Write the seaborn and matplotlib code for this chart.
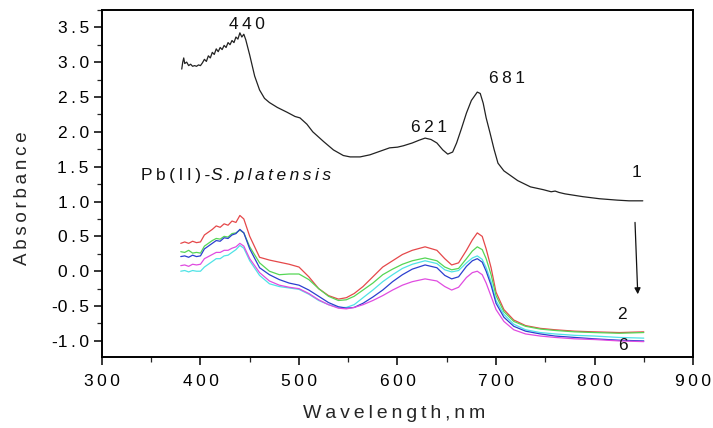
import numpy as np
import pandas as pd
import matplotlib
matplotlib.use("Agg")
import matplotlib.pyplot as plt
from matplotlib.ticker import MultipleLocator, FuncFormatter
import seaborn as sns

# ---------------- data ----------------
wl_1 = [381, 382, 383, 384, 386, 388, 390, 392, 394, 396, 398, 400, 402, 404, 406,
        408, 410, 412, 414, 416, 418, 420, 422, 424, 426, 428, 430, 432, 434, 436,
        438, 440, 442, 444, 446, 450, 455, 460, 465, 470, 478, 488, 496, 501, 508,
        514, 525, 535, 545, 552, 562, 572, 582, 592, 600, 606, 615, 622, 628, 634,
        640, 646, 651, 656, 660, 665, 670, 675, 681, 684, 687, 690, 694, 698, 702,
        708, 714, 722, 735, 748, 756, 760, 764, 770, 788, 805, 823, 835, 849]
ab_1 = [2.90, 3.00, 3.06, 2.98, 3.00, 2.95, 2.97, 2.94, 2.95, 2.94, 2.96, 2.95, 2.99,
        3.04, 3.01, 3.09, 3.06, 3.14, 3.11, 3.19, 3.15, 3.21, 3.18, 3.24, 3.21, 3.28,
        3.25, 3.31, 3.28, 3.36, 3.33, 3.42, 3.36, 3.40, 3.32, 3.10, 2.80, 2.60, 2.48,
        2.42, 2.35, 2.28, 2.22, 2.20, 2.11, 2.00, 1.86, 1.74, 1.66, 1.64, 1.64, 1.67,
        1.72, 1.77, 1.78, 1.80, 1.84, 1.88, 1.91, 1.89, 1.84, 1.74, 1.68, 1.71, 1.84,
        2.05, 2.27, 2.45, 2.57, 2.55, 2.41, 2.20, 1.98, 1.75, 1.55, 1.44, 1.38, 1.30,
        1.21, 1.17, 1.14, 1.15, 1.13, 1.11, 1.07, 1.04, 1.02, 1.01, 1.01]

wl_c = [380, 384, 388, 392, 396, 400, 404, 408, 412, 416, 420, 424, 428, 432, 436,
        440, 444, 450, 460, 470, 480, 490, 500, 510, 520, 530, 540, 548, 556, 565,
        575, 585, 595, 605, 615, 628, 640, 648, 655, 662, 670, 676, 681, 686, 690,
        695, 700, 708, 718, 730, 745, 760, 780, 800, 825, 850]
ab_2 = [0.40, 0.42, 0.40, 0.43, 0.41, 0.42, 0.52, 0.56, 0.60, 0.65, 0.63, 0.68, 0.66,
        0.72, 0.70, 0.80, 0.75, 0.50, 0.20, 0.16, 0.13, 0.10, 0.06, -0.08, -0.25,
        -0.35, -0.40, -0.38, -0.32, -0.22, -0.08, 0.06, 0.15, 0.24, 0.30, 0.35, 0.30,
        0.18, 0.09, 0.12, 0.30, 0.45, 0.55, 0.50, 0.32, 0.05, -0.30, -0.55, -0.70,
        -0.78, -0.82, -0.84, -0.86, -0.87, -0.88, -0.87]
ab_3 = [0.28, 0.27, 0.30, 0.26, 0.27, 0.26, 0.36, 0.40, 0.44, 0.47, 0.46, 0.50, 0.49,
        0.54, 0.55, 0.59, 0.55, 0.35, 0.12, 0.00, -0.05, -0.04, -0.04, -0.12, -0.25,
        -0.36, -0.42, -0.41, -0.36, -0.27, -0.17, -0.05, 0.03, 0.10, 0.15, 0.19, 0.15,
        0.06, 0.02, 0.04, 0.18, 0.29, 0.35, 0.31, 0.18, -0.05, -0.35, -0.58, -0.72,
        -0.79, -0.83, -0.85, -0.87, -0.88, -0.89, -0.88]
ab_4 = [0.00, 0.01, -0.01, 0.01, 0.00, 0.00, 0.06, 0.10, 0.14, 0.18, 0.18, 0.22, 0.23,
        0.27, 0.31, 0.37, 0.33, 0.15, -0.06, -0.18, -0.22, -0.24, -0.26, -0.33, -0.42,
        -0.48, -0.52, -0.52, -0.48, -0.38, -0.27, -0.15, -0.05, 0.04, 0.10, 0.15, 0.11,
        0.02, -0.01, 0.01, 0.12, 0.19, 0.22, 0.17, 0.05, -0.15, -0.42, -0.62, -0.76,
        -0.84, -0.88, -0.90, -0.92, -0.93, -0.95, -0.96]
ab_5 = [0.21, 0.22, 0.20, 0.23, 0.21, 0.22, 0.32, 0.36, 0.40, 0.44, 0.43, 0.48, 0.47,
        0.52, 0.54, 0.60, 0.55, 0.32, 0.05, -0.05, -0.12, -0.17, -0.20, -0.27, -0.36,
        -0.45, -0.51, -0.53, -0.52, -0.46, -0.37, -0.27, -0.15, -0.05, 0.03, 0.09, 0.05,
        -0.06, -0.11, -0.08, 0.07, 0.15, 0.18, 0.13, 0.00, -0.20, -0.46, -0.66, -0.79,
        -0.86, -0.90, -0.93, -0.95, -0.97, -0.99, -1.00]
ab_6 = [0.08, 0.09, 0.07, 0.10, 0.09, 0.10, 0.18, 0.21, 0.24, 0.27, 0.27, 0.30, 0.30,
        0.33, 0.35, 0.40, 0.36, 0.18, -0.02, -0.14, -0.20, -0.23, -0.25, -0.32, -0.41,
        -0.48, -0.53, -0.54, -0.52, -0.48, -0.42, -0.35, -0.27, -0.20, -0.15, -0.11,
        -0.14, -0.22, -0.27, -0.23, -0.09, -0.02, 0.00, -0.05, -0.17, -0.36, -0.55,
        -0.72, -0.84, -0.90, -0.93, -0.95, -0.97, -0.98, -1.00, -1.01]

series_names = ["2", "3", "4", "5", "6"]
series_vals = [ab_2, ab_3, ab_4, ab_5, ab_6]
series_colors = ["#e5484a", "#55d655", "#4fe3e6", "#2b3fcf", "#e04ce0"]

x_ticks = [300, 400, 500, 600, 700, 800, 900]
y_ticks = [-1.0, -0.5, 0.0, 0.5, 1.0, 1.5, 2.0, 2.5, 3.0, 3.5]

# ---------------- style ----------------
sns.set_theme(style="ticks")
FAM = ["Liberation Sans", "DejaVu Sans"]
plt.rcParams["font.family"] = FAM
SP = "\u2009"


def spaced(s):
    if s.startswith("-"):
        return "-" + SP.join(list(s[1:]))
    return SP.join(list(s))


fig = plt.figure(figsize=(7.13, 4.28), dpi=100)
ax = fig.add_axes([0.143, 0.166, 0.829, 0.811])

df1 = pd.DataFrame({"wl": wl_1, "ab": ab_1})
sns.lineplot(data=df1, x="wl", y="ab", ax=ax, color="#222222", lw=0.9,
             estimator=None, sort=False)

for name, vals, col in zip(series_names, series_vals, series_colors):
    d = pd.DataFrame({"wl": wl_c, "ab": vals})
    sns.lineplot(data=d, x="wl", y="ab", ax=ax, color=col, lw=0.9,
                 estimator=None, sort=False)

ax.set_xlim(300, 900)
ax.set_ylim(-1.23, 3.75)
ax.set_xticks(x_ticks)
ax.set_yticks(y_ticks)
ax.xaxis.set_minor_locator(MultipleLocator(50))
ax.yaxis.set_minor_locator(MultipleLocator(0.25))
ax.xaxis.set_major_formatter(FuncFormatter(lambda v, p: spaced(f"{v:.0f}")))
ax.yaxis.set_major_formatter(FuncFormatter(lambda v, p: spaced(f"{v:.1f}")))
ax.tick_params(axis="both", which="major", direction="out", length=6, width=1.1,
               labelsize=12.5, colors="black", top=False, right=False)
ax.tick_params(axis="both", which="minor", direction="out", length=3.5, width=0.9,
               top=False, right=False)
ax.tick_params(axis="x", pad=6)
for sp in ax.spines.values():
    sp.set_visible(True)
    sp.set_color("black")
    sp.set_linewidth(1.4)

ax.set_xlabel(spaced("Wavelength,nm"), fontsize=14, va="center")
ax.xaxis.set_label_coords(0.494, -0.162)
ax.set_ylabel(spaced("Absorbance"), fontsize=13.5, va="center")
ax.yaxis.set_label_coords(-0.135, 0.458)

txt = dict(fontsize=12.5, color="#111111")
ax.text(447, 3.54, spaced("440"), ha="center", va="center", **txt)
ax.text(632, 2.06, spaced("621"), ha="center", va="center", **txt)
ax.text(711, 2.76, spaced("681"), ha="center", va="center", **txt)
ax.text(843, 1.41, "1", ha="center", va="center", **txt)
ax.text(828, -0.62, "2", ha="center", va="center", **txt)
ax.text(829, -1.06, "6", ha="center", va="center", **txt)
t1 = ax.text(340, 1.38, spaced("Pb(II)-"), ha="left", va="center", **txt)
ax.annotate(spaced("S.platensis"), xy=(1, 0.5), xycoords=t1, ha="left",
            va="center", style="italic", **txt)

ax.annotate("", xy=(844, -0.37), xytext=(841, 0.74),
            arrowprops=dict(arrowstyle="-|>", color="#111111", lw=0.9,
                            mutation_scale=9))

fig.savefig("out.png", dpi=100)
